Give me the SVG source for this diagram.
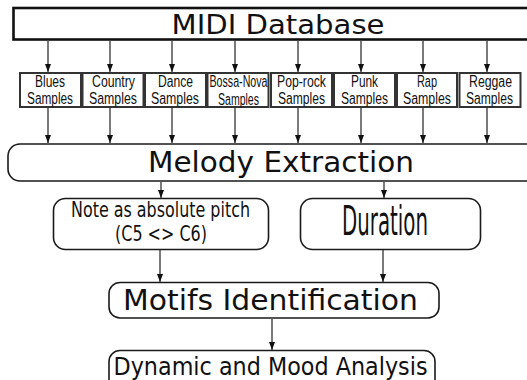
<svg xmlns="http://www.w3.org/2000/svg" width="527" height="380" viewBox="0 0 527 380">
  <defs>
    <marker id="arrow" viewBox="0 0 8 6" refX="8" refY="3" markerWidth="8" markerHeight="6" markerUnits="userSpaceOnUse" orient="auto">
      <path d="M0,0 L8,3 L0,6 z" fill="#111"/>
    </marker>
  </defs>
  <style>
    .main { font-family: "DejaVu Sans", sans-serif; fill: #111; text-anchor: middle; }
    .cond { font-family: "DejaVu Sans Condensed", "DejaVu Sans", sans-serif; fill: #111; text-anchor: middle; }
    .genre { font-family: "Liberation Sans", sans-serif; font-size: 16px; fill: #111; text-anchor: middle; }
    .sbox { fill: #fff; stroke: #333; stroke-width: 2; }
    .rbox { fill: #fff; stroke: #1a1a1a; stroke-width: 1.6; }
    .conn line { stroke: #222; stroke-width: 1.2; marker-end: url(#arrow); }
  </style>
  <rect width="527" height="380" fill="#fff"/>

  <!-- top database bar -->
  <g id="midi-database">
    <rect x="13.5" y="8" width="540" height="31.5" fill="#fff" stroke="#111" stroke-width="2.6"/>
    <text class="main" x="278" y="33.5" font-size="26" textLength="213" lengthAdjust="spacingAndGlyphs">MIDI Database</text>
  </g>

  <!-- genre sample sets (labels drawn narrow via a horizontal scale) -->
  <g id="blues">
    <rect class="sbox" x="20" y="73" width="61" height="34"/>
    <text class="genre" transform="translate(50 86.5) scale(0.75 1)" textLength="40" lengthAdjust="spacingAndGlyphs">Blues</text>
    <text class="genre" transform="translate(50 104) scale(0.75 1)" textLength="61.3" lengthAdjust="spacingAndGlyphs">Samples</text>
  </g>
  <g id="country">
    <rect class="sbox" x="82.5" y="73" width="61" height="34"/>
    <text class="genre" transform="translate(113.5 86.5) scale(0.75 1)" textLength="57.3" lengthAdjust="spacingAndGlyphs">Country</text>
    <text class="genre" transform="translate(113 104) scale(0.75 1)" textLength="64" lengthAdjust="spacingAndGlyphs">Samples</text>
  </g>
  <g id="dance">
    <rect class="sbox" x="145" y="73" width="61" height="34"/>
    <text class="genre" transform="translate(175.5 86.5) scale(0.75 1)" textLength="46.7" lengthAdjust="spacingAndGlyphs">Dance</text>
    <text class="genre" transform="translate(175 104) scale(0.75 1)" textLength="64" lengthAdjust="spacingAndGlyphs">Samples</text>
  </g>
  <g id="bossa-nova">
    <rect class="sbox" x="207.5" y="73" width="61" height="34"/>
    <text class="genre" font-size="15" transform="translate(238.5 86.5) scale(0.75 1)" textLength="77.3" lengthAdjust="spacingAndGlyphs">Bossa-Nova</text>
    <text class="genre" font-size="14" transform="translate(238.5 104.5) scale(0.75 1)" textLength="54.7" lengthAdjust="spacingAndGlyphs">Samples</text>
  </g>
  <g id="pop-rock">
    <rect class="sbox" x="271" y="73" width="61" height="34"/>
    <text class="genre" transform="translate(301.5 86.5) scale(0.75 1)" textLength="65.3" lengthAdjust="spacingAndGlyphs">Pop-rock</text>
    <text class="genre" transform="translate(301.5 104) scale(0.75 1)" textLength="62.7" lengthAdjust="spacingAndGlyphs">Samples</text>
  </g>
  <g id="punk">
    <rect class="sbox" x="334" y="73" width="61" height="34"/>
    <text class="genre" transform="translate(364.5 86.5) scale(0.75 1)" textLength="36" lengthAdjust="spacingAndGlyphs">Punk</text>
    <text class="genre" transform="translate(364.5 104) scale(0.75 1)" textLength="62.7" lengthAdjust="spacingAndGlyphs">Samples</text>
  </g>
  <g id="rap">
    <rect class="sbox" x="397" y="73" width="60" height="34"/>
    <text class="genre" transform="translate(427 86.5) scale(0.75 1)" textLength="26.7" lengthAdjust="spacingAndGlyphs">Rap</text>
    <text class="genre" transform="translate(427 104) scale(0.75 1)" textLength="64" lengthAdjust="spacingAndGlyphs">Samples</text>
  </g>
  <g id="reggae">
    <rect class="sbox" x="459.5" y="73" width="61" height="34"/>
    <text class="genre" transform="translate(490.5 86.5) scale(0.75 1)" textLength="57.3" lengthAdjust="spacingAndGlyphs">Reggae</text>
    <text class="genre" transform="translate(489.5 104) scale(0.75 1)" textLength="62.7" lengthAdjust="spacingAndGlyphs">Samples</text>
  </g>

  <!-- processing stages -->
  <g id="melody-extraction">
    <rect class="rbox" x="8" y="144" width="530" height="37" rx="12" ry="12"/>
    <text class="main" x="281" y="172" font-size="29" textLength="266" lengthAdjust="spacingAndGlyphs">Melody Extraction</text>
  </g>
  <g id="note-pitch">
    <rect class="rbox" x="53.5" y="198.5" width="215" height="51" rx="12" ry="12"/>
    <text class="cond" x="160.5" y="217" font-size="22" textLength="179" lengthAdjust="spacingAndGlyphs">Note as absolute pitch</text>
    <text class="cond" x="161" y="241" font-size="22" textLength="92" lengthAdjust="spacingAndGlyphs">(C5 &lt;&gt; C6)</text>
  </g>
  <g id="duration">
    <rect class="rbox" x="300.5" y="198.5" width="180" height="51" rx="12" ry="12"/>
    <text class="cond" x="385" y="234.5" font-size="40" textLength="86" lengthAdjust="spacingAndGlyphs">Duration</text>
  </g>
  <g id="motifs-identification">
    <rect class="rbox" x="109" y="282.5" width="330" height="35.5" rx="11" ry="11"/>
    <text class="main" x="270.5" y="310" font-size="29" textLength="295" lengthAdjust="spacingAndGlyphs">Motifs Identification</text>
  </g>
  <g id="dynamic-mood">
    <rect class="rbox" x="109" y="350.5" width="326" height="40" rx="11" ry="11"/>
    <text class="main" x="270.5" y="375" font-size="25" textLength="314" lengthAdjust="spacingAndGlyphs">Dynamic and Mood Analysis</text>
  </g>

  <!-- connectors -->
  <g id="connectors" class="conn">
    <line x1="48" y1="41" x2="48" y2="72"/>
    <line x1="110" y1="41" x2="110" y2="72"/>
    <line x1="172" y1="41" x2="172" y2="72"/>
    <line x1="235" y1="41" x2="235" y2="72"/>
    <line x1="298" y1="41" x2="298" y2="72"/>
    <line x1="361" y1="41" x2="361" y2="72"/>
    <line x1="423" y1="41" x2="423" y2="72"/>
    <line x1="487" y1="41" x2="487" y2="72"/>

    <line x1="48" y1="108" x2="48" y2="143"/>
    <line x1="110" y1="108" x2="110" y2="143"/>
    <line x1="172" y1="108" x2="172" y2="143"/>
    <line x1="235" y1="108" x2="235" y2="143"/>
    <line x1="298" y1="108" x2="298" y2="143"/>
    <line x1="361" y1="108" x2="361" y2="143"/>
    <line x1="423" y1="108" x2="423" y2="143"/>
    <line x1="487" y1="108" x2="487" y2="143"/>

    <line x1="161" y1="182" x2="161" y2="198"/>
    <line x1="384" y1="182" x2="384" y2="198"/>

    <line x1="160" y1="250" x2="160" y2="282"/>
    <line x1="383" y1="250" x2="383" y2="282"/>

    <line x1="272" y1="319" x2="272" y2="350"/>
  </g>
</svg>
